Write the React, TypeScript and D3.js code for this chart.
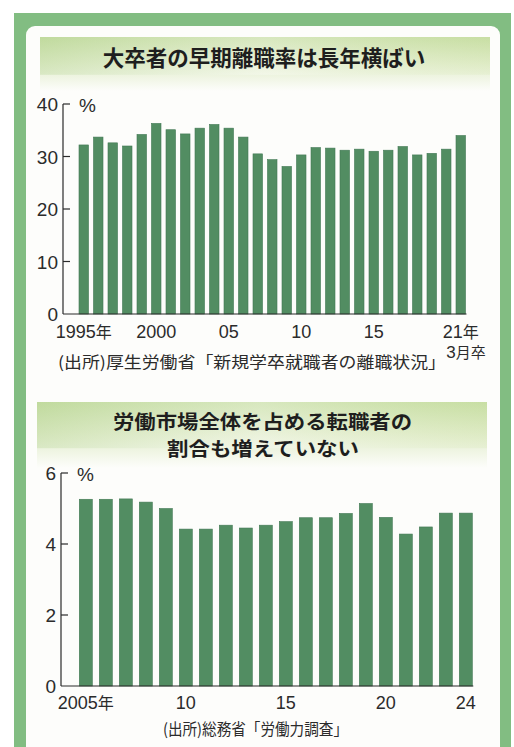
import * as d3 from 'd3'

// 大卒者の3年以内離職率 (%), 1995〜2021年3月卒
const gradYears = d3.range(1995, 2022)
const gradRates = [
    32.2, 33.7, 32.6, 32.0, 34.2, 36.3, 35.1, 34.3, 35.4, 36.1,
    35.4, 33.7, 30.5, 29.4, 28.1, 30.3, 31.7, 31.6, 31.2, 31.4,
    31.0, 31.2, 31.9, 30.3, 30.6, 31.4, 34.0,
]
const gradTicks = [0, 10, 20, 30, 40]
const gradLabels: [number, string][] = [
    [1995, '1995年'], [2000, '2000'], [2005, '05'], [2010, '10'], [2015, '15'], [2021, '21年'],
]

// 転職者比率 (%), 2005〜2024年
const moveYears = d3.range(2005, 2025)
const moveRates = [
    5.26, 5.26, 5.27, 5.18, 5.0, 4.42, 4.42, 4.53, 4.45, 4.53,
    4.63, 4.74, 4.74, 4.86, 5.14, 4.75, 4.28, 4.48, 4.87, 4.87,
]
const moveTicks = [0, 2, 4, 6]
const moveLabels: [number, string][] = [
    [2005, '2005年'], [2010, '10'], [2015, '15'], [2020, '20'], [2024, '24'],
]

const W = 514
const H = 747
const frameGreen = '#82bd82'
const barGreen = '#528d62'
const ink = '#2b2b2b'
const jp = '"Noto Sans CJK JP", "Noto Sans", sans-serif'
const num = '"Liberation Sans", Arial, sans-serif'

type PanelProps = {
    years: number[]
    values: number[]
    ticks: number[]
    labels: [number, string][]
    x0: number
    x1: number
    axisX: number
    y0: number
    yTop: number
    yMax: number
    pad: number
    labelY: number
}

const Panel = ({ years, values, ticks, labels, x0, x1, axisX, y0, yTop, yMax, pad, labelY }: PanelProps) => {
    const x = d3.scaleBand<number>()
        .domain(years)
        .range([x0, x1])
        .paddingInner(pad)
        .paddingOuter(pad / 2)
    const y = d3.scaleLinear().domain([0, yMax]).range([y0, yTop])
    const lastX = (x(years[years.length - 1]) ?? 0) + x.bandwidth()
    return (
        <g>
            {years.map((yr, i) => (
                <rect
                    key={yr}
                    x={x(yr)}
                    y={y(values[i])}
                    width={x.bandwidth()}
                    height={y0 - y(values[i])}
                    fill={barGreen}
                    stroke="#427854"
                    strokeWidth={0.6}
                />
            ))}
            <line x1={axisX} x2={axisX} y1={y(yMax)} y2={y0} stroke={ink} strokeWidth={1.2} />
            <line x1={axisX} x2={lastX + 1} y1={y0} y2={y0} stroke={ink} strokeWidth={1.2} />
            {ticks.map(t => (
                <g key={t}>
                    {t > 0 && (
                        <line x1={axisX} x2={axisX + 7} y1={y(t)} y2={y(t)} stroke={ink} strokeWidth={1.2} />
                    )}
                    <text
                        x={axisX - 5}
                        y={y(t) + 7}
                        textAnchor="end"
                        fontFamily={num}
                        fontSize={19}
                        fill={ink}
                    >
                        {t}
                    </text>
                </g>
            ))}
            <text x={axisX + 16} y={y(yMax) + 8} fontFamily={num} fontSize={19} fill={ink}>%</text>
            {labels.map(([yr, s]) => (
                <text
                    key={yr}
                    x={(x(yr) ?? 0) + x.bandwidth() / 2}
                    y={labelY}
                    textAnchor="middle"
                    fontFamily={num}
                    fontSize={18}
                    fill={ink}
                >
                    {s.replace('年', '')}
                    {s.includes('年') && <tspan fontFamily={jp} fontSize={16}>年</tspan>}
                </text>
            ))}
        </g>
    )
}

const TitleBand = ({ id, x, y, w, h }: { id: string, x: number, y: number, w: number, h: number }) => (
    <g>
        <defs>
            <linearGradient id={id} x1="0" y1="0" x2="0" y2="1">
                <stop offset="0" stopColor="#c6dda2" />
                <stop offset="0.5" stopColor="#e2edcc" />
                <stop offset="1" stopColor="#fdfdfb" />
            </linearGradient>
            <linearGradient id={id + 'h'} x1="0" y1="0" x2="1" y2="0">
                <stop offset="0" stopColor="#b5d494" stopOpacity={0.35} />
                <stop offset="0.5" stopColor="#ffffff" stopOpacity={0.3} />
                <stop offset="1" stopColor="#cfe3a8" stopOpacity={0.2} />
            </linearGradient>
        </defs>
        <rect x={x} y={y} width={w} height={h} fill={`url(#${id})`} />
        <rect x={x} y={y} width={w} height={h * 0.7} fill={`url(#${id}h)`} />
    </g>
)

export default function App() {
    return (
        <svg
            width={W}
            height={H}
            viewBox={`0 0 ${W} ${H}`}
            style={{ position: 'absolute', left: 0, top: 0, background: '#fff' }}
        >
            <rect x={14} y={13} width={497} height={760} fill={frameGreen} />
            <rect x={26} y={26} width={474} height={760} rx={9} fill="#fdfdfb" />

            <TitleBand id="band1" x={40} y={37} w={450} h={54} />
            <text x={264} y={66} textAnchor="middle" fontFamily={jp} fontWeight={700} fontSize={21.5} fill="#1e1e1e">
                大卒者の早期離職率は長年横ばい
            </text>

            <Panel
                years={gradYears}
                values={gradRates}
                ticks={gradTicks}
                labels={gradLabels}
                x0={76.5}
                x1={468}
                axisX={63}
                y0={314}
                yTop={104}
                yMax={40}
                pad={0.345}
                labelY={338}
            />
            <text x={466} y={358} textAnchor="middle" fontFamily={num} fontSize={17} fill={ink}>
                3<tspan fontFamily={jp} fontSize={15}>月卒</tspan>
            </text>
            <text x={58} y={368} textLength={388} lengthAdjust="spacingAndGlyphs" fontFamily={jp} fontSize={16} fill={ink}>
                (出所)厚生労働省「新規学卒就職者の離職状況」
            </text>

            <TitleBand id="band2" x={37} y={402} w={450} h={66} />
            <text x={113} y={428.5} textLength={299} lengthAdjust="spacingAndGlyphs" fontFamily={jp} fontWeight={700} fontSize={19} fill="#1e1e1e">
                労働市場全体を占める転職者の
            </text>
            <text x={167} y={456} textLength={192} lengthAdjust="spacingAndGlyphs" fontFamily={jp} fontWeight={700} fontSize={19} fill="#1e1e1e">
                割合も増えていない
            </text>

            <Panel
                years={moveYears}
                values={moveRates}
                ticks={moveTicks}
                labels={moveLabels}
                x0={75.8}
                x1={475.8}
                axisX={61}
                y0={686}
                yTop={473}
                yMax={6}
                pad={0.35}
                labelY={709}
            />
            <text x={163} y={735} textLength={185} lengthAdjust="spacingAndGlyphs" fontFamily={jp} fontSize={16} fill={ink}>
                (出所)総務省「労働力調査」
            </text>
        </svg>
    )
}
